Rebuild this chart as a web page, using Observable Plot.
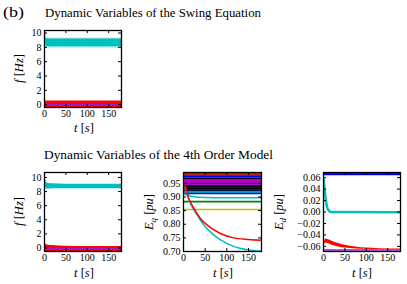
<!DOCTYPE html>
<html><head><meta charset="utf-8">
<script src="https://cdn.jsdelivr.net/npm/d3@7"></script>
<script src="https://cdn.jsdelivr.net/npm/@observablehq/plot@0.6"></script>
<style>
html,body{margin:0;padding:0;background:#fff;}
#root{position:relative;width:407px;height:284px;overflow:hidden;}
#root svg{position:absolute;}
#root svg text{font-family:"Liberation Serif","DejaVu Serif",serif;}
</style></head><body><div id="root"></div>
<script>
// ---------- tick labels ----------
const tTicks  = [0, 50, 100, 150];
const fTicks  = [0, 2, 4, 6, 8, 10];
const eqTicks = [0.70, 0.75, 0.80, 0.85, 0.90, 0.95];
const edTicks = [-0.06, -0.04, -0.02, 0.00, 0.02, 0.04, 0.06];

// ---------- Swing equation: frequency bands ----------
const swingT        = [0, 1, 3, 6, 180];
const swingCyanHi   = [10.3, 9.9, 9.3, 9.2, 9.2];
const swingCyanLo   = [9.8, 8.8, 8.1, 8.05, 8.05];
const swingRedHi    = [0.5, 0.5, 0.5, 0.5, 0.5];
const swingRedLo    = [-0.45, -0.45, -0.45, -0.45, -0.45];
const swingPurple   = [0.0, 0.0, 0.0, 0.0, 0.0];

// ---------- 4th order model: frequency bands ----------
const orderT        = [0, 2, 5, 10, 20, 50, 100, 180];
const orderCyanHi   = [10.7, 9.8, 9.25, 9.15, 9.1, 9.05, 9.05, 9.05];
const orderCyanLo   = [10.2, 8.9, 8.35, 8.35, 8.4, 8.4, 8.4, 8.4];
const orderRedHi    = [0.6, 0.55, 0.45, 0.4, 0.35, 0.25, 0.2, 0.2];
const orderRedLo    = [-0.5, -0.5, -0.5, -0.5, -0.5, -0.5, -0.5, -0.5];
const orderPurple   = [-0.08, -0.08, -0.08, -0.08, -0.08, -0.08, -0.08, -0.08];

// ---------- 4th order model: Eq ----------
const eqGen    = ["g1","g2","g3","g4","g5","g6","g7","g8","g9","g10","g11","g12","g13","g14","g15","g16","g17","g18","g19","g20","g21","g22","g23"];
const eqLevels = [0.987,0.984,0.979,0.975,0.971,0.967,0.963,0.960,0.957,0.954,0.951,0.948,0.944,0.941,0.938,0.934,0.930,0.926,0.922,0.918,0.913,0.883,0.854];
const eqPalette = ["#ff0000","#ff0000","#008000","#0000ff","#008000","#000000","#ff0000","#bf00bf","#bf00bf","#8000d0","#bf00bf","#0000ff","#bf00bf","#0000ff","#000000","#0000ff","#000000","#0000ff","#000000","#00bfbf","#0000ff","#008000","#bfbf00"];
const eqCyanT  = [0, 5, 20, 50, 180];
const eqCyanV  = [0.912, 0.909, 0.902, 0.898, 0.897];
const eqRedT   = [3, 5, 10, 24, 39, 55, 85, 116, 150, 180];
const eqRedV   = [0.95, 0.935, 0.905, 0.858, 0.821, 0.797, 0.766, 0.750, 0.744, 0.741];
const eqDropT  = [3, 7, 15, 32, 47, 70, 101, 132, 160, 180];
const eqDropV  = [0.935, 0.915, 0.88, 0.833, 0.797, 0.760, 0.729, 0.711, 0.704, 0.701];

// ---------- 4th order model: Ed ----------
const edBlueT  = [0, 180];
const edBlueV  = [0.0662, 0.0662];
const edCyanT  = [0, 2, 4, 6, 8, 10, 13, 18, 180];
const edCyanV  = [0.058, 0.045, 0.030, 0.018, 0.010, 0.005, 0.002, 0.0, -0.0005];
const edRedT   = [0, 2, 3, 6, 10, 20, 35, 50, 75, 100, 130, 180];
const edRedHi  = [-0.062, -0.052, -0.050, -0.047, -0.048, -0.051, -0.055, -0.058, -0.061, -0.063, -0.064, -0.0645];
const edRedLo  = [-0.066, -0.058, -0.056, -0.054, -0.055, -0.058, -0.061, -0.063, -0.0645, -0.065, -0.0655, -0.066];
const edPurpleT = [0, 180];
const edPurpleV = [-0.0665, -0.0665];

// ---------- helpers ----------
const CYAN = "#00bfbf", RED = "#ff0000", PURPLE = "#9a1cc8", BLUE = "#0000ff";
const band = (t, lo, hi) => t.map((v, i) => ({t: v, lo: lo[i], hi: hi[i]}));
const series = (t, v) => t.map((x, i) => ({t: x, v: v[i]}));
const root = document.getElementById("root");
const FONT = '"Liberation Serif", "DejaVu Serif", serif';
const M = {l: 40, r: 6, t: 6, b: 22};

function panel(frame, yDomain, yTicks, yFmt, marks, extra = {}) {
  const [x0, y0, x1, y1] = frame;
  const fw = x1 - x0, fh = y1 - y0;
  const svg = Plot.plot({
    width: fw + M.l + M.r, height: fh + M.t + M.b,
    marginLeft: M.l, marginRight: M.r, marginTop: M.t, marginBottom: M.b,
    x: {domain: [0, 180], label: null},
    y: {domain: yDomain, label: null},
    ...extra,
    style: {background: "transparent", fontFamily: FONT, fontSize: "10px", color: "black", overflow: "visible"},
    marks: [
      ...marks,
      Plot.tickX(tTicks, {x: d => d, insetTop: fh - 3, stroke: "black"}),
      Plot.tickX(tTicks, {x: d => d, insetBottom: fh - 3, stroke: "black"}),
      Plot.tickY(yTicks, {y: d => d, insetRight: fw - 3, stroke: "black"}),
      Plot.tickY(yTicks, {y: d => d, insetLeft: fw - 3, stroke: "black"}),
      Plot.frame({stroke: "black", strokeWidth: 1.3}),
      Plot.axisX(tTicks, {anchor: "bottom", tickSize: 0, tickPadding: 2, label: null, fill: "black"}),
      Plot.axisY(yTicks, {anchor: "left", tickSize: 0, tickPadding: 3, tickFormat: yFmt, label: null, fill: "black"})
    ]
  });
  svg.setAttribute("font-family", FONT);
  svg.style.left = (x0 - M.l) + "px";
  svg.style.top = (y0 - M.t) + "px";
  root.appendChild(svg);
}

// top: swing equation
panel([44, 30, 121, 107], [-0.4, 10.35], fTicks, d3.format("d"), [
  Plot.areaY(band(swingT, swingCyanLo, swingCyanHi), {x: "t", y1: "lo", y2: "hi", fill: CYAN, clip: true}),
  Plot.line(series(swingT, swingCyanHi.map(v => v + 0.1)), {x: "t", y: "v", stroke: "#8fe0e0", strokeWidth: 0.8, strokeDasharray: "1.5,1.5", clip: true}),
  Plot.line(series(swingT, swingCyanLo.map(v => v - 0.1)), {x: "t", y: "v", stroke: "#8fe0e0", strokeWidth: 0.8, strokeDasharray: "1.5,1.5", clip: true}),
  Plot.areaY(band(swingT, swingRedLo, swingRedHi), {x: "t", y1: "lo", y2: "hi", fill: RED, clip: true}),
  Plot.line(series(swingT, swingPurple), {x: "t", y: "v", stroke: PURPLE, strokeWidth: 1.8, clip: true})
]);

// bottom-left: 4th order f
panel([44, 172, 121, 251], [-0.5, 10.7], fTicks, d3.format("d"), [
  Plot.areaY(band(orderT, orderCyanLo, orderCyanHi), {x: "t", y1: "lo", y2: "hi", fill: CYAN, curve: "monotone-x", clip: true}),
  Plot.areaY(band(orderT, orderRedLo, orderRedHi), {x: "t", y1: "lo", y2: "hi", fill: RED, curve: "monotone-x", clip: true}),
  Plot.line(series(orderT, orderPurple), {x: "t", y: "v", stroke: PURPLE, strokeWidth: 1.8, clip: true})
]);

// bottom-middle: Eq
const eqRows = eqGen.flatMap((g, i) => [{g, t: 0, v: eqLevels[i]}, {g, t: 180, v: eqLevels[i]}]);
panel([183, 172, 261, 251], [0.70, 0.99], eqTicks, d3.format(".2f"), [
  Plot.line(eqRows, {x: "t", y: "v", z: "g", stroke: "g", strokeWidth: 1.6, clip: true}),
  Plot.line(series(eqCyanT, eqCyanV), {x: "t", y: "v", stroke: CYAN, strokeWidth: 1.5, curve: "monotone-x", clip: true}),
  Plot.line(series(eqDropT, eqDropV), {x: "t", y: "v", stroke: CYAN, strokeWidth: 1.5, curve: "monotone-x", clip: true}),
  Plot.line(series(eqRedT, eqRedV), {x: "t", y: "v", stroke: RED, strokeWidth: 1.5, curve: "monotone-x", clip: true})
], {color: {type: "ordinal", domain: eqGen, range: eqPalette}});

// bottom-right: Ed
panel([323, 172, 400, 251], [-0.069, 0.069], edTicks, d3.format(".2f"), [
  Plot.line(series(edBlueT, edBlueV), {x: "t", y: "v", stroke: BLUE, strokeWidth: 2.5, clip: true}),
  Plot.line(series(edCyanT, edCyanV), {x: "t", y: "v", stroke: CYAN, strokeWidth: 2.5, curve: "monotone-x", clip: true}),
  Plot.areaY(band(edRedT, edRedLo, edRedHi), {x: "t", y1: "lo", y2: "hi", fill: RED, curve: "monotone-x", clip: true}),
  Plot.line(series(edPurpleT, edPurpleV), {x: "t", y: "v", stroke: PURPLE, strokeWidth: 1.5, clip: true})
]);

// ---------- text overlay ----------
const ov = d3.create("svg").attr("width", 407).attr("height", 284)
  .style("left", "0px").style("top", "0px").style("pointer-events", "none")
  .attr("font-family", FONT).attr("fill", "black");
ov.append("text").attr("x", 3).attr("y", 17).attr("font-size", 14)
  .attr("textLength", 21).attr("lengthAdjust", "spacingAndGlyphs").text("(b)");
ov.append("text").attr("x", 45).attr("y", 16.5).attr("font-size", 12.5)
  .attr("textLength", 216).attr("lengthAdjust", "spacingAndGlyphs").text("Dynamic Variables of the Swing Equation");
ov.append("text").attr("x", 44).attr("y", 158.5).attr("font-size", 12.5)
  .attr("textLength", 229).attr("lengthAdjust", "spacingAndGlyphs").text("Dynamic Variables of the 4th Order Model");

function label(x, y, rotate, parts) {
  const t = ov.append("text").attr("font-size", 12.5).attr("text-anchor", "middle")
    .attr("transform", `translate(${x},${y})${rotate ? " rotate(-90)" : ""}`);
  parts.forEach(p => {
    const s = t.append("tspan").text(p.s);
    if (p.i) s.attr("font-style", "italic");
    if (p.fs) s.attr("font-size", p.fs);
    if (p.dy) s.attr("dy", p.dy);
  });
}
const fLab  = [{s: "f", i: 1}, {s: " ["}, {s: "Hz", i: 1}, {s: "]"}];
const tLab  = [{s: "t", i: 1}, {s: " ["}, {s: "s", i: 1}, {s: "]"}];
const eqLab = [{s: "E", i: 1}, {s: "q", i: 1, fs: 9, dy: 2.5}, {s: " [", dy: -2.5}, {s: "pu", i: 1}, {s: "]"}];
const edLab = [{s: "E", i: 1}, {s: "d", i: 1, fs: 9, dy: 2.5}, {s: " [", dy: -2.5}, {s: "pu", i: 1}, {s: "]"}];
label(23, 68.5, true, fLab);
label(84, 132, false, tLab);
label(23, 211.5, true, fLab);
label(84, 277, false, tLab);
label(153, 212, true, eqLab);
label(223, 277, false, tLab);
label(283, 212, true, edLab);
label(362, 277, false, tLab);
root.appendChild(ov.node());
</script></body></html>
